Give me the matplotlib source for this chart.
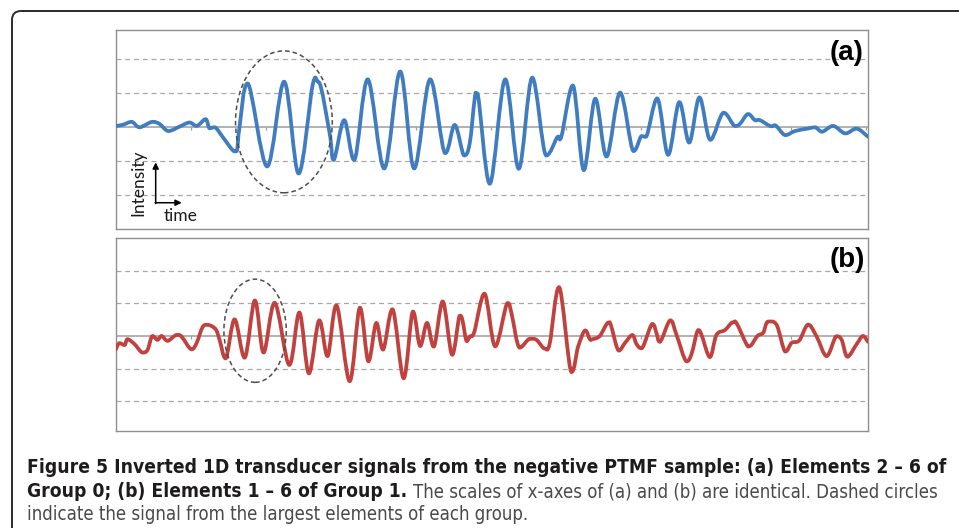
import matplotlib
matplotlib.use("Agg")
import matplotlib.pyplot as plt
from matplotlib.patches import Ellipse, FancyBboxPatch, PathPatch
from matplotlib.path import Path
from matplotlib.transforms import IdentityTransform

# ---- data (time in samples, intensity in grid units) ----
time_a = [0, 7, 16, 24, 37, 44, 53, 64, 74, 81, 90, 94, 99, 107, 117, 121, 124, 132,
          151.5, 168.5, 183, 197, 203, 214, 218, 228.5, 238.5, 252, 268.5, 284.5,
          298.5, 314.5, 329.5, 339, 348.5, 354, 359, 361.5, 374, 389.5, 403, 416.5,
          430.5, 441.5, 445.7, 457, 468, 479.5, 490.7, 504.3, 517.7, 525.7, 530,
          541.3, 552.3, 563.5, 573.3, 583.6, 594.5, 607.8, 619, 624, 632.3, 639, 644,
          655.5, 659, 669.5, 679, 691.5, 699, 706, 717, 729.5, 740.4, 752]
intensity_a = [0.04, 0.07, 0.16, 0.0, 0.16, 0.10, -0.11, 0.02, 0.14, 0.04, 0.24, -0.03,
               0.0, -0.28, -0.67, -0.70, 0.02, 1.29, -1.15, 1.34, -1.36, 1.24, 1.33,
               -0.18, -0.96, 0.21, -0.96, 1.41, -1.21, 1.64, -1.21, 1.41, -0.76, 0.07,
               -0.83, -0.47, 0.85, 1.0, -1.66, 1.41, -1.22, 1.46, -0.83, -0.29, -0.26,
               1.23, -1.26, 0.84, -0.86, 1.02, -0.70, -0.26, -0.28, 0.85, -0.81, 0.74,
               -0.45, 0.88, -0.37, 0.43, 0.04, 0.10, 0.39, 0.21, 0.21, 0.03, 0.06, -0.23,
               -0.11, -0.04, 0.0, -0.13, 0.04, -0.18, -0.04, -0.28]

time_b = [0, 4, 9, 12, 19, 27, 32, 37, 42, 46, 52, 61, 66, 76, 81, 87, 92, 100, 104, 110,
          119, 129, 139.3, 148, 159, 173.7, 183.7, 193.3, 203.7, 211.8, 220.7, 234,
          244.3, 252.8, 260.7, 267.3, 276.7, 288, 297.3, 304.5, 311.3, 318, 327, 336.5,
          344, 346.7, 351, 354, 358.5, 368.7, 379.5, 391.8, 395.7, 404, 414, 420.7, 429,
          434, 443.2, 455.7, 462.3, 469.5, 474, 476.7, 484, 492.3, 495, 503, 509, 516.5,
          520.7, 525.7, 536.5, 540.7, 544, 554.5, 560.7, 570.7, 575.7, 582.3, 585.7,
          594, 600.5, 609, 617, 620.7, 630.7, 634, 641.5, 647.3, 652, 660.7, 669.5,
          675.7, 683.3, 692.3, 700.7, 710.7, 720.5, 725.7, 731.5, 740.7, 747, 752]
intensity_b = [-0.43, -0.22, -0.28, -0.10, -0.25, -0.51, -0.43, 0.0, -0.12, 0.0, -0.15,
               0.03, -0.02, -0.41, -0.22, 0.27, 0.34, 0.21, -0.12, -0.69, 0.51, -0.67,
               1.09, -0.51, 1.02, -0.89, 0.72, -1.15, 0.48, -0.62, 0.94, -1.39, 0.87,
               -0.78, 0.40, -0.42, 0.82, -1.30, 0.75, -0.31, 0.40, -0.33, 1.06, -0.58,
               0.62, 0.49, -0.16, -0.02, 0.12, 1.30, -0.32, 1.01, 0.70, -0.36, -0.09,
               -0.12, -0.39, -0.22, 1.50, -1.11, -0.33, 0.17, -0.10, -0.10, 0.0, 0.41,
               0.34, -0.45, -0.22, 0.03, -0.25, -0.38, 0.37, 0.08, -0.18, 0.48, 0.03,
               -0.78, -0.55, 0.18, 0.03, -0.65, 0.03, 0.18, 0.42, 0.39, -0.26, -0.31,
               0.0, 0.10, 0.44, 0.34, -0.48, -0.21, -0.14, 0.35, -0.02, -0.62, -0.01,
               -0.12, -0.64, -0.25, 0.0, -0.18]

tick_times = [75, 150, 225, 300, 375, 450, 525, 600, 675, 750]
grid_levels = [-2, -1, 1, 2]
panel_labels = ["(a)", "(b)"]

caption_bold_1 = ("Figure 5 Inverted 1D transducer signals from the negative PTMF sample: "
                  "(a) Elements 2 \u2013 6 of")
caption_bold_2 = "Group 0; (b) Elements 1 \u2013 6 of Group 1."
caption_reg_2 = "The scales of x-axes of (a) and (b) are identical. Dashed circles"
caption_reg_3 = "indicate the signal from the largest elements of each group."

W, H = 959, 528
fig = plt.figure(figsize=(W / 100, H / 100), dpi=100)


def px_rect(left, top, right, bottom):
    return [left / W, 1 - bottom / H, (right - left) / W, (bottom - top) / H]


def smooth_path(t, v):
    # cubic Bezier through the read points, flat tangents at the turning points
    n = len(t)
    tangents = []
    for i in range(n):
        i0, i1 = max(i - 1, 0), min(i + 1, n - 1)
        mx = (t[i1] - t[i0]) / 2
        my = (v[i1] - v[i0]) / 2
        if 0 < i < n - 1 and (v[i] - v[i0]) * (v[i] - v[i1]) > 0:
            my = 0.0
        tangents.append((mx, my))
    verts = [(t[0], v[0])]
    codes = [Path.MOVETO]
    for i in range(n - 1):
        verts.append((t[i] + tangents[i][0] / 3, v[i] + tangents[i][1] / 3))
        verts.append((t[i + 1] - tangents[i + 1][0] / 3, v[i + 1] - tangents[i + 1][1] / 3))
        verts.append((t[i + 1], v[i + 1]))
        codes += [Path.CURVE4] * 3
    return Path(verts, codes)


def draw_panel(ax, t, v, color, ylim, ell, label, label_xy):
    ax.set_xlim(0, 752)
    ax.set_ylim(*ylim)
    for g in grid_levels:
        ax.axhline(g, color="#a8a8a8", lw=0.9, ls=(0, (4, 3)), zorder=1)
    ax.axhline(0, color="#9c9c9c", lw=1.1, zorder=1)
    # little tick marks hanging from the zero axis
    height_px = ax.get_position().height * H
    tick_len = 3 * (ylim[1] - ylim[0]) / height_px
    ax.vlines(tick_times, -tick_len, 0, color="#9c9c9c", lw=0.9, zorder=1)
    ax.add_patch(PathPatch(smooth_path(t, v), fill=False, ec=color, lw=2.7,
                           capstyle="round", joinstyle="round", zorder=3))
    ax.add_patch(Ellipse(ell[0], ell[1], ell[2], fill=False, ec="#4d4d4d",
                         lw=1.1, ls=(0, (3, 2)), zorder=4))
    ax.set_xticks([])
    ax.set_yticks([])
    for s in ax.spines.values():
        s.set_color("#8f8f8f")
        s.set_linewidth(1.0)
    ax.text(label_xy[0], label_xy[1], label, transform=ax.transAxes, ha="right",
            va="top", fontsize=20, fontweight="bold", family="Liberation Sans")


ax_a = fig.add_axes(px_rect(115.5, 30, 868, 229))
ax_b = fig.add_axes(px_rect(115.5, 238.3, 868, 431))

draw_panel(ax_a, time_a, intensity_a, "#3f7cc0", (-2.99, 2.86),
           ((168.3, 0.16), 96.7, 4.17), panel_labels[0], (0.9934, 0.95))
draw_panel(ax_b, time_b, intensity_b, "#c0413e", (-2.92, 3.0),
           ((139.5, 0.16), 62.3, 3.17), panel_labels[1], (0.996, 0.955))

# Intensity / time axes hint
ax_a.annotate("", xy=(0.0534, 0.335), xytext=(0.0534, 0.128), xycoords="axes fraction",
              arrowprops=dict(arrowstyle="-|>", color="black", lw=1.1,
                              mutation_scale=9, shrinkA=0, shrinkB=0))
ax_a.annotate("", xy=(0.0880, 0.132), xytext=(0.0527, 0.132), xycoords="axes fraction",
              arrowprops=dict(arrowstyle="-|>", color="black", lw=1.1,
                              mutation_scale=9, shrinkA=0, shrinkB=0))
ax_a.text(0.0299, 0.231, "Intensity", transform=ax_a.transAxes, rotation=90,
          ha="center", va="center", fontsize=12.5, family="Lato", color="#1a1a1a")
ax_a.text(0.087, 0.063, "time", transform=ax_a.transAxes, ha="center", va="center",
          fontsize=12.5, family="Lato", color="#1a1a1a")

# outer rounded frame (only the top-left corner is inside the picture)
frame = FancyBboxPatch((12, -60), 1100, H - 11 + 60,
                       boxstyle="round,pad=0,rounding_size=9",
                       transform=IdentityTransform(), fill=False, ec="#2b2b2b", lw=1.4)
fig.add_artist(frame)

# caption: bold and regular parts are fitted to the widths seen in the reference
cap_font = "DejaVu Sans"
renderer = fig.canvas.get_renderer()
t1 = fig.text(27 / W, 1 - 473 / H, caption_bold_1, fontsize=13, fontweight="bold",
              family=cap_font, fontstretch="condensed", color="#1e1b1c", va="baseline")
fs_bold = 13 * 916 / t1.get_window_extent(renderer).width
t1.set_fontsize(fs_bold)
t2 = fig.text(27 / W, 1 - 497 / H, caption_bold_2, fontsize=fs_bold, fontweight="bold",
              family=cap_font, fontstretch="condensed", color="#1e1b1c", va="baseline")
t3 = fig.text(27 / W, 1 - 520 / H, caption_reg_3, fontsize=13, family=cap_font,
              fontstretch="condensed", color="#4a4a4a", va="baseline")
t4 = fig.text(408 / W, 1 - 497 / H, caption_reg_2, fontsize=13, family=cap_font,
              fontstretch="condensed", color="#4a4a4a", va="baseline")
fs_reg = min(13 * 532 / t3.get_window_extent(renderer).width,
             13 * 525 / t4.get_window_extent(renderer).width)
t3.set_fontsize(fs_reg)
t4.set_fontsize(fs_reg)
x_end = t2.get_window_extent(renderer).x1
t4.set_x((x_end + 6) / W)

fig.savefig("out.png", dpi=100)
